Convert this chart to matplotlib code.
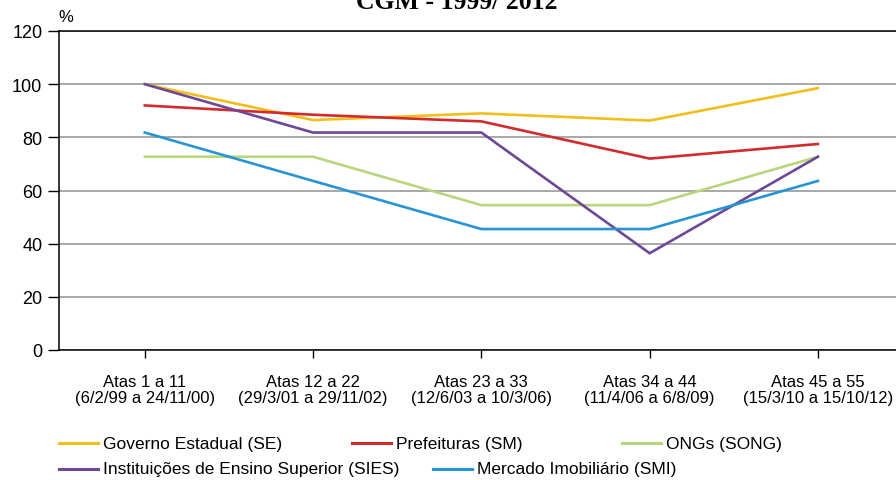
import matplotlib
matplotlib.use("Agg")
import matplotlib.pyplot as plt
from matplotlib.lines import Line2D

plt.rcParams["font.family"] = ["Liberation Sans", "DejaVu Sans"]

categories = [
    "Atas 1 a 11\n(6/2/99 a 24/11/00)",
    "Atas 12 a 22\n(29/3/01 a 29/11/02)",
    "Atas 23 a 33\n(12/6/03 a 10/3/06)",
    "Atas 34 a 44\n(11/4/06 a 6/8/09)",
    "Atas 45 a 55\n(15/3/10 a 15/10/12)",
]
governo_estadual = [100.0, 86.5, 89.0, 86.3, 98.5]
prefeituras = [92.0, 88.5, 86.0, 72.0, 77.5]
ongs = [72.7, 72.7, 54.5, 54.5, 72.7]
ensino_superior = [100.0, 81.8, 81.8, 36.4, 72.7]
mercado_imobiliario = [81.8, 63.6, 45.5, 45.5, 63.6]
y_ticks = [0, 20, 40, 60, 80, 100, 120]

series = [
    ("Governo Estadual (SE)", governo_estadual, "#F2BE1A"),
    ("Prefeituras (SM)", prefeituras, "#D42A2C"),
    ("ONGs (SONG)", ongs, "#B7D77C"),
    ("Instituições de Ensino Superior (SIES)", ensino_superior, "#6E4795"),
    ("Mercado Imobiliário (SMI)", mercado_imobiliario, "#2894D2"),
]

W, H = 896, 481
fig = plt.figure(figsize=(W / 100, H / 100), dpi=100)
ax = fig.add_axes([59 / W, 1 - 351 / H, 1 - 59 / W, (351 - 32) / H])

x = list(range(len(categories)))
drawn = {}
for name, vals, color in series:
    (ln,) = ax.plot(x, vals, color=color, lw=1.9, solid_joinstyle="miter", zorder=3)
    drawn[name] = ln

ax.set_xlim(-0.51, 4.464)
ax.set_ylim(0, 120)
ax.set_yticks(y_ticks)
ax.set_xticks(x)
ax.set_xticklabels(categories, fontsize=12, linespacing=1.12)
ax.tick_params(axis="y", labelsize=13, length=8, width=1, pad=4, direction="out")
ax.tick_params(axis="x", length=6, width=1, pad=11, direction="out")

ax.grid(axis="y", color="#A8A8A8", lw=1.4, zorder=1)
ax.set_axisbelow(True)
for side in ("left", "bottom", "top"):
    ax.spines[side].set_color("black")
    ax.spines[side].set_linewidth(1.1)
ax.spines["right"].set_visible(False)

fig.text(66 / W, 1 - 18 / H, "%", fontsize=12, ha="center", va="center")
fig.text(457 / W, 1 - 9 / H, "CGM - 1999/ 2012", fontsize=18.5, fontweight="bold",
         family=["Liberation Serif", "DejaVu Serif"], ha="center", va="baseline")

# Legend entries laid out in two rows
legend_slots = [
    ("Governo Estadual (SE)", 59, 444),
    ("Prefeituras (SM)", 352, 444),
    ("ONGs (SONG)", 622, 444),
    ("Instituições de Ensino Superior (SIES)", 59, 470),
    ("Mercado Imobiliário (SMI)", 433, 470),
]
for name, px, py in legend_slots:
    color = drawn[name].get_color()
    fy = 1 - py / H
    fig.add_artist(Line2D([px / W, (px + 39) / W], [fy, fy], color=color, lw=2.2,
                          transform=fig.transFigure))
    fig.text((px + 44) / W, fy, name, fontsize=12.5, ha="left", va="center")

fig.savefig("out.png", dpi=100)
